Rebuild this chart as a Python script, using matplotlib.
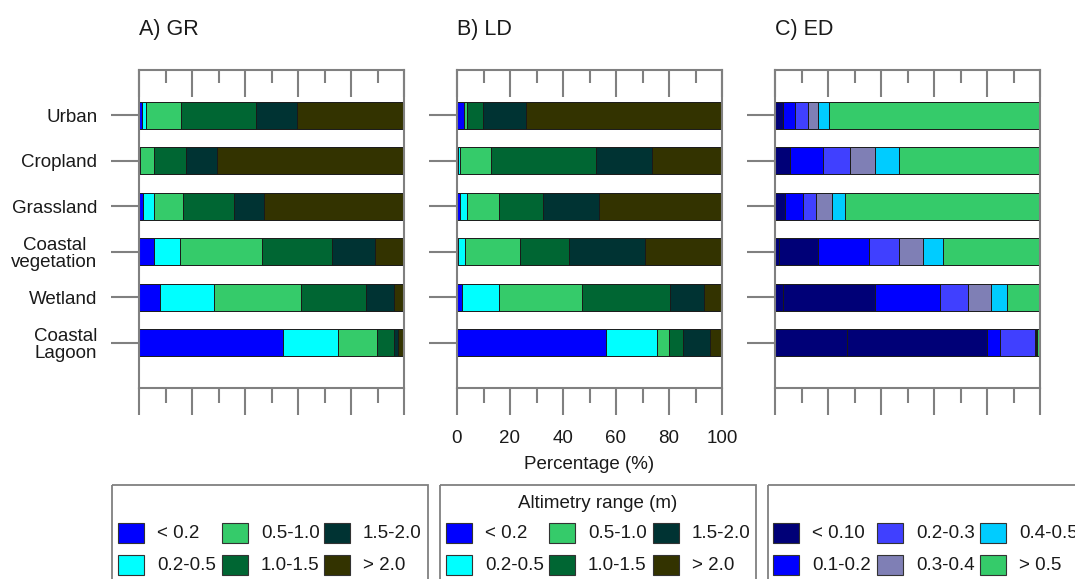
import matplotlib
matplotlib.use("Agg")
import matplotlib.pyplot as plt
from matplotlib.patches import Rectangle
import numpy as np

plt.rcParams["font.family"] = ["Liberation Sans", "DejaVu Sans"]

# ---------------- data (percentage of each land-cover class) ----------------
categories = ["Urban", "Cropland", "Grassland", "Coastal\nvegetation", "Wetland", "Coastal\nLagoon"]

range_labels = ["< 0.2", "0.2-0.5", "0.5-1.0", "1.0-1.5", "1.5-2.0", "> 2.0"]
range_colors = ["#0000FF", "#00FFFF", "#35CB6A", "#006633", "#003333", "#333300"]

# A) GR
gr_lt02 = [1.0, 0.2, 1.5, 5.8, 7.9, 54.4]
gr_02_05 = [1.5, 0.2, 4.2, 9.5, 20.5, 20.6]
gr_05_10 = [13.3, 5.3, 10.8, 31.1, 32.9, 14.8]
gr_10_15 = [28.5, 12.0, 19.3, 26.6, 24.2, 6.4]
gr_15_20 = [15.5, 11.7, 11.4, 16.0, 10.6, 1.7]
gr_gt20 = [40.2, 70.6, 52.8, 11.0, 3.9, 2.1]

# B) LD
ld_lt02 = [2.5, 0.5, 1.3, 0.4, 2.0, 56.1]
ld_02_05 = [0.3, 0.5, 2.5, 2.5, 13.7, 19.4]
ld_05_10 = [1.0, 11.8, 12.1, 20.9, 31.5, 4.6]
ld_10_15 = [6.1, 39.6, 16.6, 18.5, 33.0, 5.2]
ld_15_20 = [16.2, 21.0, 21.1, 28.8, 12.9, 10.3]
ld_gt20 = [73.9, 26.6, 46.4, 28.9, 6.9, 4.4]

# C) ED
ed_labels = ["< 0.10", "0.1-0.2", "0.2-0.3", "0.3-0.4", "0.4-0.5", "> 0.5"]
ed_colors = ["#000077", "#0000FF", "#4040FF", "#7F7FB5", "#00CCFF", "#35CB6A"]
ed_lt010_part1 = [0.0, 0.0, 0.0, 1.5, 2.9, 27.0]
ed_lt010_part2 = [3.1, 5.7, 3.8, 14.7, 35.0, 53.1]
ed_01_02 = [4.4, 12.4, 6.9, 19.1, 24.4, 4.8]
ed_02_03 = [5.1, 10.2, 4.6, 11.4, 10.7, 13.3]
ed_03_04 = [3.5, 9.3, 6.3, 9.0, 8.4, 0.4]
ed_04_05 = [4.3, 9.1, 4.9, 7.8, 6.0, 0.4]
ed_gt05 = [79.6, 53.3, 73.5, 36.5, 12.6, 1.0]

x_ticks = [0, 20, 40, 60, 80, 100]
x_minor = [10, 30, 50, 70, 90]

# ---------------- figure ----------------
W, H = 1075, 579
fig = plt.figure(figsize=(W / 100, H / 100), dpi=100)

axis_grey = "#808080"
edge = "#1a1a1a"
txt = "#1a1a1a"
fs = 13.5


def px_axes(left, right, top, bottom):
    return fig.add_axes([left / W, 1 - bottom / H, (right - left) / W, (bottom - top) / H])


def stacked(ax, series, colors):
    y = np.arange(len(categories))
    left = np.zeros(len(categories))
    for vals, col in zip(series, colors):
        vals = np.asarray(vals, dtype=float)
        ax.barh(y, vals, left=left, height=0.6, color=col,
                edgecolor=edge, linewidth=0.7)
        left += vals


def style(ax, show_ylabels, show_xlabels):
    ax.set_xlim(0, 100)
    ax.set_ylim(6.0, -1.0)
    for s in ax.spines.values():
        s.set_color(axis_grey)
        s.set_linewidth(1.5)
    ax.set_yticks(np.arange(len(categories)))
    if show_ylabels:
        ax.set_yticklabels(categories, fontsize=fs, color=txt,
                           multialignment="center", linespacing=1.05)
    else:
        ax.set_yticklabels([])
    ax.tick_params(axis="y", direction="out", length=20, width=1.5,
                   color=axis_grey, pad=10)
    ax.set_xticks(x_ticks)
    ax.set_xticks(x_minor, minor=True)
    ax.tick_params(axis="x", which="major", direction="out", length=19.5,
                   width=1.5, color=axis_grey, pad=11, labelsize=fs,
                   labelcolor=txt)
    ax.tick_params(axis="x", which="minor", direction="out", length=10.5,
                   width=1.5, color=axis_grey)
    if not show_xlabels:
        ax.set_xticklabels([])
    # inward ticks along the top edge
    top = ax.secondary_xaxis("top")
    top.set_xticks(x_ticks)
    top.set_xticks(x_minor, minor=True)
    top.set_xticklabels([])
    top.tick_params(axis="x", which="major", direction="in", length=19.5,
                    width=1.5, color=axis_grey)
    top.tick_params(axis="x", which="minor", direction="in", length=9.5,
                    width=1.5, color=axis_grey)
    top.spines["top"].set_visible(False)


top_px, bottom_px = 70, 388
axA = px_axes(139, 404, top_px, bottom_px)
axB = px_axes(457, 722, top_px, bottom_px)
axC = px_axes(775, 1040, top_px, bottom_px)

stacked(axA, [gr_lt02, gr_02_05, gr_05_10, gr_10_15, gr_15_20, gr_gt20], range_colors)
stacked(axB, [ld_lt02, ld_02_05, ld_05_10, ld_10_15, ld_15_20, ld_gt20], range_colors)
stacked(axC, [ed_lt010_part1, ed_lt010_part2, ed_01_02, ed_02_03, ed_03_04,
              ed_04_05, ed_gt05], [ed_colors[0]] + ed_colors)

style(axA, True, False)
style(axB, False, True)
style(axC, False, False)
axB.set_xlabel("Percentage (%)", fontsize=fs, color=txt, labelpad=6)

for ax, title in zip([axA, axB, axC], ["A) GR", "B) LD", "C) ED"]):
    ax.text(0.0, 1.0 + 41 / 318, title, transform=ax.transAxes, fontsize=15.5,
            ha="left", va="center", color=txt)

# ---------------- legend boxes ----------------
ov = fig.add_axes([0, 0, 1, 1], zorder=5)
ov.set_xlim(0, W)
ov.set_ylim(H, 0)
ov.axis("off")
ov.patch.set_alpha(0)


def legend_box(x0, x1, labels, colors, col_x, title=None):
    ov.add_patch(Rectangle((x0, 485), x1 - x0, 130, facecolor="none",
                           edgecolor=axis_grey, linewidth=1.3, clip_on=True))
    if title:
        ov.text((x0 + x1) / 2, 503, title, ha="center", va="center",
                fontsize=fs, color=txt)
    rows_y = [533, 565]
    for i, (lab, col) in enumerate(zip(labels, colors)):
        c, r = divmod(i, 2)
        ov.add_patch(Rectangle((col_x[c], rows_y[r] - 10), 26, 20,
                               facecolor=col, edgecolor="#333333", linewidth=0.8))
        ov.text(col_x[c] + 39, rows_y[r], lab, ha="left", va="center",
                fontsize=fs, color=txt)


legend_box(112, 428, range_labels, range_colors, [118, 222, 324])
legend_box(440, 756, range_labels, range_colors, [446, 549, 653],
           title="Altimetry range (m)")
legend_box(768, 1095, ed_labels, ed_colors, [773, 877, 980])

fig.savefig("out.png", dpi=100)
